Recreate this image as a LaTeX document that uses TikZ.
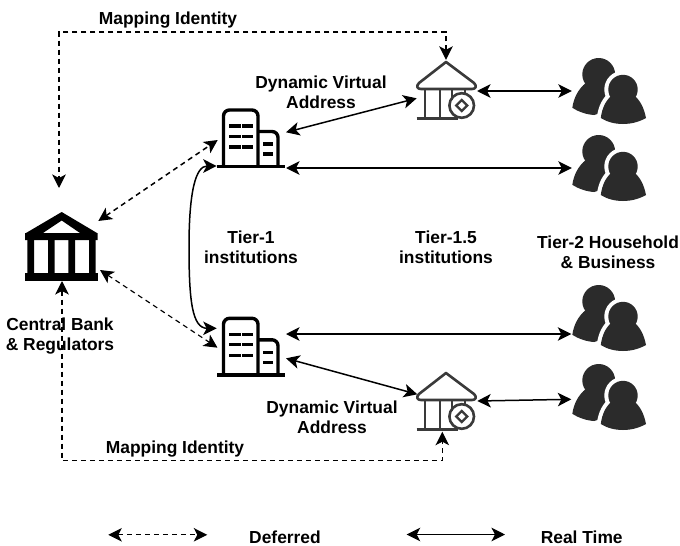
\documentclass[tikz,border=0pt]{standalone}
\usepackage{fontspec}
\setmainfont{Liberation Sans}
\usetikzlibrary{arrows.meta}
\definecolor{icondark}{HTML}{2B2B2B}
\definecolor{bankgray}{HTML}{3A3A3A}
\tikzset{
  x=1pt,y=-1pt,
  lbl/.style={font=\bfseries\fontsize{17.4}{20}\selectfont,align=center,inner sep=0pt,text=black},
  tips/.style={{Stealth[length=13.5pt,width=13.5pt,inset=3.5pt]}-{Stealth[length=13.5pt,width=13.5pt,inset=3.5pt]}},
  realtime/.style={tips,line width=1.5pt,black},
  deferred/.style={tips,line width=1.5pt,black,dash pattern=on 5pt off 4pt},
  deferredthin/.style={deferred,line width=1.15pt},
  iconbox/.style={draw=none,inner sep=0pt,minimum width=#1},
  building/.pic={
    \draw[line width=3.4pt,black,rounded corners=6pt] (223.5,166) -- (223.5,110) -- (258,110) -- (258,166);
    \draw[line width=3.4pt,black,rounded corners=6pt] (258,131.5) -- (278,131.5) -- (278,166);
    \draw[line width=3.4pt,black] (217,166.5) -- (285,166.5);
    \foreach \yy in {126,136.5,147}{
      \draw[line width=3.2pt,black] (229,\yy) -- (240.5,\yy) (241.8,\yy) -- (252.8,\yy);
    }
    \foreach \yy in {144,154}{
      \draw[line width=3.2pt,black] (263,\yy) -- (273,\yy);
    }
  },
  centralbank/.pic={
    \fill[black,even odd rule] (61.7,212) -- (97,233) -- (97.7,233) -- (97.7,240) -- (25,240) -- (25,233) -- (26,233) -- cycle
      (61.7,220.5) -- (43,233) -- (80,233) -- cycle;
    \fill[black] (27.3,240) rectangle (34,273) (48,240) rectangle (54.7,273) (68.3,240) rectangle (75,273) (89,240) rectangle (95.5,273);
    \fill[black] (25,273) rectangle (97.7,281);
  },
  smallbank/.pic={
    \draw[line width=2.6pt,bankgray,line join=round] (446,62) -- (474,83) .. controls (477,86) and (476,89) .. (472,89) -- (421,89) .. controls (417,89) and (416,86) .. (419,83) -- cycle;
    \draw[line width=2.6pt,bankgray] (425,89) -- (425,118.5) (440,89) -- (440,118.5) (452,89) -- (452,100) (465,89) -- (465,93);
    \draw[line width=2.6pt,bankgray] (416.5,118.5) -- (458,118.5);
    \draw[line width=2.6pt,bankgray] (461.7,105.5) circle[radius=12.3];
    \draw[line width=2.3pt,bankgray] (461.7,100) -- (467.2,105.5) -- (461.7,111) -- (456.2,105.5) -- cycle;
  },
  people/.pic={
    \fill[icondark] (598.7,74.4) circle[radius=16.4];
    \fill[icondark] (572.3,107.8) .. controls (574,96) and (580,86) .. (590,80) -- (610,85) -- (612,110) -- (594,115) .. controls (586,114.5) and (578,111.5) .. (572.3,107.8) -- cycle;
    \fill[white,draw=white,line width=8pt,line join=round] (623,89.5) circle[radius=14.7];
    \fill[white,draw=white,line width=8pt,line join=round] (600.8,118) .. controls (602,108) and (606,99) .. (614,94) -- (632,94) .. controls (640,99) and (644,108) .. (646,118) .. controls (638,122.5) and (630,124) .. (623,124) .. controls (615,124) and (607,122) .. (600.8,118) -- cycle;
    \fill[icondark] (623,89.5) circle[radius=14.7];
    \fill[icondark] (600.8,118) .. controls (602,108) and (606,99) .. (614,94) -- (632,94) .. controls (640,99) and (644,108) .. (646,118) .. controls (638,122.5) and (630,124) .. (623,124) .. controls (615,124) and (607,122) .. (600.8,118) -- cycle;
  },
}
\begin{document}
\begin{tikzpicture}
\useasboundingbox (0,0) rectangle (680,546);
\fill[white] (0,0) rectangle (680,546);

% icon anchors
\node[iconbox=74,minimum height=69] (cb) at (61.5,246.5) {};
\node[iconbox=68,minimum height=60] (bt) at (251,138) {};
\node[iconbox=68,minimum height=60] (bb) at (251,346) {};
\node[iconbox=60,minimum height=60] (kt) at (446,90) {};
\node[iconbox=60,minimum height=60] (kb) at (446,401) {};
\node[iconbox=74,minimum height=66] (p1) at (609,91) {};
\node[iconbox=74,minimum height=66] (p2) at (609,168) {};
\node[iconbox=74,minimum height=66] (p3) at (609,318) {};
\node[iconbox=74,minimum height=66] (p4) at (609,397) {};
\coordinate (maptop) at (59,32);
\coordinate (mapbot) at (62,460.7);
\coordinate (curvemid) at (189,247);
\coordinate (legdl) at (108.3,534.8);
\coordinate (legdr) at (207.3,534.8);
\coordinate (legrl) at (406.7,534.5);
\coordinate (legrr) at (505,534.5);

% icons
\pic at (0,0) {centralbank};
\pic at (0,0) {building};
\pic at (0,208.3) {building};
\pic at (0,0) {smallbank};
\pic at (0,311) {smallbank};
\pic at (0,0) {people};
\pic at (0,77) {people};
\pic at (0,227) {people};
\pic at (0,306) {people};

% deferred connectors
\draw[deferred] (kt.north) |- (maptop) -- ([shift={(-2.5,-58.5)}]cb.center);
\draw[deferredthin] ([shift={(0.5,34.5)}]cb.center) -- (mapbot) -| ([shift={(-3.7,30.7)}]kb.center);
\draw[deferred] ([shift={(36.8,-25.5)}]cb.center) -- ([shift={(-33.3,2)}]bt.center);
\draw[deferredthin] ([shift={(38.5,23.5)}]cb.center) -- ([shift={(-33.5,1.7)}]bb.center);
\draw[deferredthin] (legdl) -- (legdr);

% real time connectors
\draw[realtime] ([shift={(-34.3,28)}]bt.center) .. controls (196,166) and (189,190) .. (curvemid) .. controls (189,300) and (192,328.3) .. ([shift={(-34.3,-17.7)}]bb.center);
\draw[realtime] ([shift={(35,-5.7)}]bt.center) -- ([shift={(-29.3,8.3)}]kt.center);
\draw[realtime] ([shift={(35,30)}]bt.center) -- (p2.west);
\draw[realtime] ([shift={(31,1)}]kt.center) -- (p1.west);
\draw[realtime] ([shift={(35,-12)}]bb.center) -- ([shift={(-37.7,16)}]p3.center);
\draw[realtime] ([shift={(35,12.3)}]bb.center) -- ([shift={(-28.7,-6.7)}]kb.center);
\draw[realtime] ([shift={(31.3,0)}]kb.center) -- ([shift={(-37.7,2.3)}]p4.center);
\draw[realtime] (legrl) -- (legrr);

% labels
\node[lbl] (l1) at (168,20.5) {Mapping Identity};
\node[lbl] (l2) at (175,449) {Mapping Identity};
\node[lbl] (l3) at (321,92) {Dynamic Virtual\\Address};
\node[lbl] (l4) at (332,417) {Dynamic Virtual\\Address};
\node[lbl] (l5) at (251,247.5) {Tier-1\\institutions};
\node[lbl] (l6) at (446,247.5) {Tier-1.5\\institutions};
\node[lbl] (l7) at (608,252.5) {Tier-2 Household\\\& Business};
\node[lbl] (l8) at (60,336) {Central Bank\\\& Regulators};
\node[lbl] (l9) at (285,537) {Deferred};
\node[lbl] (l10) at (581.7,537) {Real Time};
\end{tikzpicture}
\end{document}
